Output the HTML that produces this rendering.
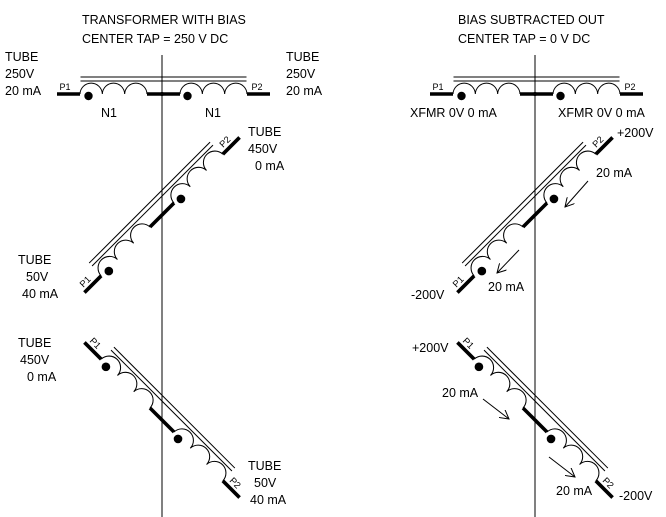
<!DOCTYPE html>
<html><head><meta charset="utf-8"><style>
html,body{margin:0;padding:0;background:#fff;}
svg{display:block;}
text{font-family:"Liberation Sans",sans-serif;font-size:12.5px;fill:#000;}
.s{font-size:9px;}
</style></head><body>
<svg width="666" height="517" viewBox="0 0 666 517" xmlns="http://www.w3.org/2000/svg">
<defs>
<g id="xf">
  <line x1="-106.5" y1="0" x2="-83.5" y2="0" stroke="#000" stroke-width="3.5"/>
  <line x1="-16.5" y1="0" x2="16.5" y2="0" stroke="#000" stroke-width="3.5"/>
  <line x1="83.5" y1="0" x2="106.5" y2="0" stroke="#000" stroke-width="3.5"/>
  <path d="M-83.5 0 a11.17 11.17 0 0 1 22.33 0 a11.17 11.17 0 0 1 22.33 0 a11.17 11.17 0 0 1 22.33 0 M16.5 0 a11.17 11.17 0 0 1 22.33 0 a11.17 11.17 0 0 1 22.33 0 a11.17 11.17 0 0 1 22.33 0" fill="none" stroke="#000" stroke-width="1"/>
  <line x1="-83" y1="-17" x2="83" y2="-17" stroke="#000" stroke-width="1"/>
  <line x1="-83" y1="-13" x2="83" y2="-13" stroke="#000" stroke-width="1"/>
  <circle cx="-75" cy="2" r="4.2" fill="#000"/>
  <circle cx="24" cy="2" r="4.2" fill="#000"/>
  <text class="s" x="-104" y="-4">P1</text>
  <text class="s" x="88" y="-4">P2</text>
</g>
<marker id="ah" markerWidth="10" markerHeight="10" refX="9" refY="5" orient="auto" markerUnits="userSpaceOnUse">
  <path d="M0 0 L9 5 L0 10" fill="none" stroke="#000" stroke-width="1"/>
</marker>
</defs>

<!-- LEFT -->
<text x="82" y="24">TRANSFORMER WITH BIAS</text>
<text x="82" y="43">CENTER TAP = 250 V DC</text>
<line x1="162" y1="55" x2="162" y2="517" stroke="#000" stroke-width="1"/>
<use href="#xf" transform="translate(163.5,94)"/>
<circle cx="162" cy="94" r="2" fill="#000"/>
<use href="#xf" transform="translate(162,215) rotate(-45) scale(1.03)"/>
<use href="#xf" transform="translate(162,420) rotate(45) scale(1.03)"/>
<text x="5" y="61">TUBE</text><text x="5" y="78">250V</text><text x="5" y="95">20 mA</text>
<text x="286" y="61">TUBE</text><text x="286" y="78">250V</text><text x="286" y="95">20 mA</text>
<text x="101" y="117">N1</text><text x="205" y="117">N1</text>
<text x="248" y="136">TUBE</text><text x="248" y="153">450V</text><text x="255" y="170">0 mA</text>
<text x="18" y="264">TUBE</text><text x="26" y="281">50V</text><text x="22" y="298">40 mA</text>
<text x="18" y="347">TUBE</text><text x="20" y="364">450V</text><text x="27" y="381">0 mA</text>
<text x="248" y="470">TUBE</text><text x="254" y="487">50V</text><text x="250" y="504">40 mA</text>

<!-- RIGHT -->
<text x="458" y="24">BIAS SUBTRACTED OUT</text>
<text x="458" y="43">CENTER TAP = 0 V DC</text>
<line x1="535" y1="55" x2="535" y2="517" stroke="#000" stroke-width="1"/>
<use href="#xf" transform="translate(536.5,94)"/>
<circle cx="535" cy="94" r="2" fill="#000"/>
<use href="#xf" transform="translate(535,215) rotate(-45) scale(1.03)"/>
<use href="#xf" transform="translate(535,420) rotate(45) scale(1.03)"/>
<text x="410" y="117">XFMR 0V 0 mA</text><text x="558" y="117">XFMR 0V 0 mA</text>
<text x="617" y="137">+200V</text>
<text x="596" y="177">20 mA</text>
<line x1="588" y1="181" x2="565" y2="207" stroke="#000" stroke-width="1" marker-end="url(#ah)"/>
<line x1="519" y1="250" x2="497" y2="273" stroke="#000" stroke-width="1" marker-end="url(#ah)"/>
<text x="488" y="291">20 mA</text>
<text x="411" y="299">-200V</text>
<text x="412" y="352">+200V</text>
<text x="442" y="397">20 mA</text>
<line x1="483" y1="399" x2="509" y2="419" stroke="#000" stroke-width="1" marker-end="url(#ah)"/>
<line x1="549" y1="457" x2="575" y2="477" stroke="#000" stroke-width="1" marker-end="url(#ah)"/>
<text x="556" y="495">20 mA</text>
<text x="619" y="500">-200V</text>
</svg>
</body></html>
